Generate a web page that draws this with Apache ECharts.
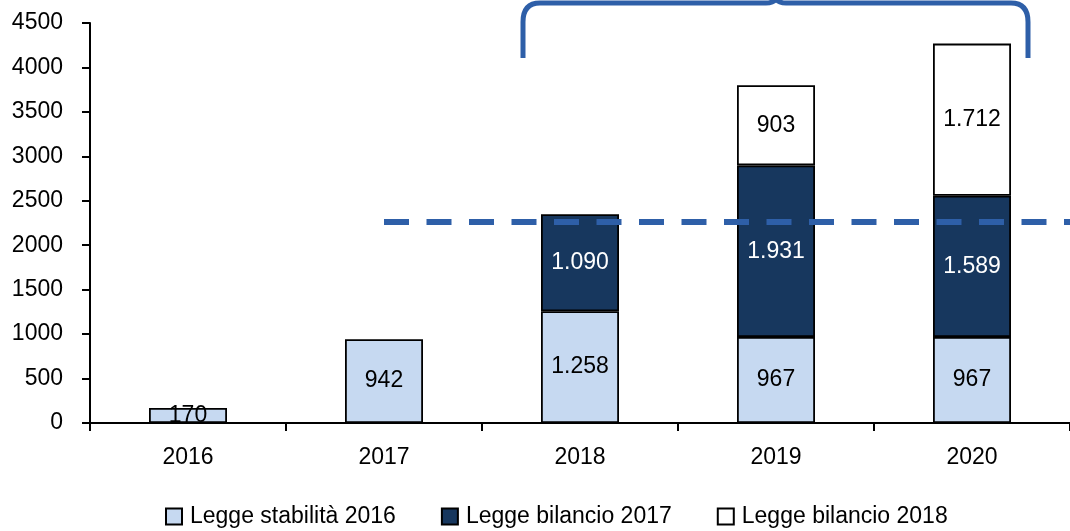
<!DOCTYPE html>
<html><head><meta charset="utf-8">
<script src="https://cdn.jsdelivr.net/npm/echarts@6/dist/echarts.min.js"></script>
<style>html,body{margin:0;padding:0;background:#fff}#c{width:1070px;height:531px}</style>
</head><body><div id="c"></div>
<script>
const categories = ['2016', '2017', '2018', '2019', '2020'];
const stabilita2016 = [170, 942, 1258, 967, 967];
const bilancio2017 = [null, null, 1090, 1931, 1589];
const bilancio2018 = [null, null, null, 903, 1712];
const seriesNames = ['Legge stabilità 2016', 'Legge bilancio 2017', 'Legge bilancio 2018'];
const yTicks = { min: 0, max: 4500, interval: 500 };
const thresholdValue = 2260;

const FONT = '"Liberation Sans", Arial, sans-serif';
const FS = 23;
const fmt = v => v == null ? '' : String(v).replace(/\B(?=(\d{3})+(?!\d))/g, '.');

function barSeries(name, data, color, labelColor) {
  return {
    name, type: 'bar', stack: 'tot', data, barWidth: 78,
    itemStyle: { color, borderColor: '#000', borderWidth: 1.8 },
    label: { show: true, position: 'inside', color: labelColor, fontFamily: FONT, fontSize: FS,
      formatter: p => fmt(p.value) }
  };
}

const BR = { stroke: '#2E5FA8', lineWidth: 5, fill: 'none' };
const seg = (x1, y1, x2, y2) => ({ type: 'line', silent: true, shape: { x1, y1, x2, y2 }, style: BR });
const crv = (x1, y1, cpx1, cpy1, x2, y2) => ({ type: 'bezierCurve', silent: true, shape: { x1, y1, cpx1, cpy1, x2, y2 }, style: BR });

const chart = echarts.init(document.getElementById('c'), null, { renderer: 'canvas' });
const s3 = barSeries(seriesNames[2], bilancio2018, '#FFFFFF', '#000');
s3.markLine = {
  silent: true, symbol: 'none', animation: false,
  label: { show: false },
  lineStyle: { color: '#2E5FA8', width: 6, type: [25, 17.5] },
  data: [[{ xAxis: '2017', yAxis: thresholdValue }, { x: '100%', yAxis: thresholdValue }]]
};
chart.setOption({
  animation: false,
  textStyle: { fontFamily: FONT },
  grid: { left: 90, top: 23, bottom: 108, width: 988, containLabel: false },
  legend: {
    left: 165, top: 505, padding: 0, itemWidth: 16, itemHeight: 16, itemGap: 45, icon: 'rect',
    textStyle: { fontFamily: FONT, fontSize: FS, color: '#000', padding: [0, 0, 0, 3] },
    data: seriesNames
  },
  xAxis: {
    type: 'category', data: categories,
    axisLine: { lineStyle: { color: '#000', width: 2 } },
    axisTick: { show: true, length: 8, lineStyle: { color: '#000', width: 2 } },
    axisLabel: { color: '#000', fontFamily: FONT, fontSize: FS, margin: 23 }
  },
  yAxis: {
    type: 'value', min: yTicks.min, max: yTicks.max, interval: yTicks.interval,
    axisLine: { show: true, lineStyle: { color: '#000', width: 2 } },
    axisTick: { show: true, length: 8, lineStyle: { color: '#000', width: 2 } },
    splitLine: { show: false },
    axisLabel: { color: '#000', fontFamily: FONT, fontSize: FS, margin: 27, formatter: v => String(v) }
  },
  graphic: [
    seg(523, 58, 523, 22), crv(523, 22, 523, 3, 540, 3), seg(540, 3, 766, 3),
    crv(766, 3, 773, 3, 776, -1), crv(776, -1, 779, 3, 786, 3), seg(786, 3, 1011, 3),
    crv(1011, 3, 1028, 3, 1028, 22), seg(1028, 22, 1028, 58)
  ],
  series: [
    barSeries(seriesNames[0], stabilita2016, '#C6D9F1', '#000'),
    barSeries(seriesNames[1], bilancio2017, '#17375E', '#FFFFFF'),
    s3
  ]
});
</script></body></html>
